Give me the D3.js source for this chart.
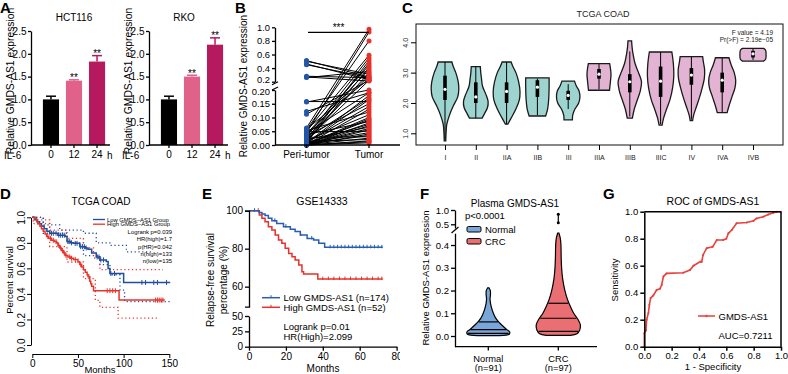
<!DOCTYPE html>
<html>
<head>
<meta charset="utf-8">
<script src="https://cdn.jsdelivr.net/npm/d3@7"></script>
<style>
  body { margin: 0; background: #fff; }
  svg { display: block; font-family: "Liberation Sans", Arial, sans-serif; }
</style>
</head>
<body>
<svg width="788" height="374"></svg>
<script>
// ---------- A: IL-6 bars ----------
const ilTimes = ['0', '12', '24'];
const hctMeans = [1.0, 1.41, 1.83];
const hctErr = [0.07, 0.02, 0.13];
const rkoMeans = [1.0, 1.5, 2.2];
const rkoErr = [0.07, 0.03, 0.15];
const barTicks = [0, 0.5, 1.0, 1.5, 2.0, 2.5];
const barColors = ['#000000', '#e0628a', '#b5195e'];

// ---------- B: paired peri-tumor / tumor ----------
const pairGroups = ['Peri-tumor', 'Tumor'];
const periValues = [0.51, 0.50, 0.46, 0.45, 0.28, 0.27, 0.26, 0.158, 0.156, 0.122, 0.112,
  0.062, 0.058, 0.055, 0.052, 0.05, 0.048, 0.045, 0.043, 0.04, 0.038, 0.035, 0.033, 0.03,
  0.028, 0.026, 0.024, 0.022, 0.02, 0.018, 0.016, 0.015, 0.013, 0.012, 0.01, 0.009, 0.008,
  0.007, 0.006, 0.005, 0.004, 0.003, 0.003, 0.002, 0.002, 0.001, 0.001, 0, 0, 0, 0, 0, 0, 0];
const tumorValues = [0.27, 0.31, 0.23, 0.26, 0.26, 0.21, 0.35, 0.158, 0.2, 0.19, 0.22,
  0.97, 0.24, 0.80, 0.12, 0.59, 0.05, 0.93, 0.19, 0.44, 0.085, 0.38, 0.15, 0.55, 0.03,
  0.29, 0.17, 0.47, 0.065, 0.22, 0.11, 0.33, 0.02, 0.51, 0.14, 0.41, 0.075, 0.18, 0.045,
  0.165, 0.09, 0.1, 0.035, 0.13, 0.06, 0.095, 0.025, 0.08, 0.055, 0.07, 0.015, 0.04, 0.012, 0.008];
const bTopTicks = [0.2, 0.4, 0.6, 0.8, 1.0];
const bBotTicks = [0, 0.05, 0.10, 0.15, 0.20];

// ---------- C: TCGA COAD violins ----------
const stages = ['I', 'II', 'IIA', 'IIB', 'III', 'IIIA', 'IIIB', 'IIIC', 'IV', 'IVA', 'IVB'];
const stageLate = [0, 0, 0, 0, 0, 1, 1, 1, 1, 1, 1];
// [value, relative half width]
const stageShapes = [
  [[0.75, 0.05], [1.0, 0.07], [1.3, 0.12], [1.6, 0.3], [1.9, 0.55], [2.2, 0.85], [2.45, 0.92], [2.7, 0.88], [3.0, 0.72], [3.2, 0.55], [3.35, 0.46]],
  [[1.5, 0.42], [1.65, 0.58], [1.85, 0.78], [2.05, 0.82], [2.3, 0.66], [2.55, 0.45], [2.8, 0.38], [3.0, 0.33], [3.2, 0.3]],
  [[1.3, 0.08], [1.5, 0.3], [1.8, 0.62], [2.1, 0.85], [2.4, 0.89], [2.7, 0.8], [3.0, 0.62], [3.2, 0.42], [3.35, 0.3]],
  [[1.57, 0.55], [1.8, 0.68], [2.1, 0.75], [2.5, 0.78], [2.83, 0.78]],
  [[1.44, 0.28], [1.6, 0.3], [1.8, 0.45], [2.0, 0.7], [2.2, 0.78], [2.4, 0.72], [2.55, 0.55], [2.72, 0.42]],
  [[2.42, 0.7], [2.7, 0.76], [2.95, 0.8], [3.15, 0.76], [3.3, 0.71]],
  [[1.5, 0.17], [1.8, 0.3], [2.1, 0.5], [2.4, 0.7], [2.7, 0.78], [3.0, 0.58], [3.3, 0.35], [3.6, 0.22], [3.85, 0.15], [4.05, 0.12]],
  [[1.27, 0.1], [1.5, 0.2], [1.8, 0.4], [2.1, 0.62], [2.5, 0.8], [2.9, 0.88], [3.3, 0.85], [3.68, 0.75]],
  [[1.42, 0.08], [1.6, 0.15], [1.9, 0.35], [2.2, 0.55], [2.5, 0.72], [2.8, 0.86], [3.1, 0.88], [3.35, 0.8], [3.53, 0.75]],
  [[1.68, 0.33], [1.9, 0.45], [2.2, 0.65], [2.5, 0.85], [2.75, 0.9], [3.0, 0.8], [3.25, 0.6], [3.49, 0.45]],
  [[3.38, 0.7], [3.44, 0.84], [3.6, 0.87], [3.74, 0.84], [3.8, 0.7]]
];
const stageQ1 = [2.1, 2.0, 2.0, 2.2, 2.1, 2.8, 2.35, 2.2, 2.6, 2.35, 3.5];
const stageMedian = [2.45, 2.2, 2.38, 2.52, 2.25, 2.95, 2.7, 2.72, 2.92, 2.75, 3.62];
const stageQ3 = [2.9, 2.68, 2.68, 2.75, 2.4, 3.12, 2.95, 3.2, 3.15, 3.0, 3.72];
const stageLow = [0.8, 1.5, 1.3, 1.6, 1.8, 2.45, 1.55, 1.3, 1.45, 1.7, 3.42];
const stageHigh = [3.35, 3.2, 3.35, 2.8, 2.62, 3.28, 3.7, 3.68, 3.52, 3.48, 3.78];
const coadTicks = [1, 2, 3, 4];

// ---------- D: TCGA COAD survival ----------
const dLowTime = [0, 3, 5, 8, 10, 13, 16, 19, 28, 36, 38, 42, 45, 52, 58, 61, 65, 70, 74, 81, 83, 85, 100, 151];
const dLowSurv = [1.0, 0.98, 0.965, 0.95, 0.93, 0.91, 0.89, 0.875, 0.86, 0.85, 0.81, 0.8, 0.796, 0.77, 0.76, 0.75, 0.72, 0.69, 0.666, 0.653, 0.6, 0.56, 0.49, 0.49];
const dHighTime = [0, 2, 4.7, 6, 8.4, 10, 12, 14, 15.7, 18, 21, 24, 26.6, 28, 30, 32, 34, 36, 39, 42, 45, 50, 52, 54, 56, 58, 60, 61, 63, 64, 65, 67, 95, 145];
const dHighSurv = [1.0, 0.99, 0.97, 0.95, 0.93, 0.91, 0.89, 0.87, 0.85, 0.835, 0.82, 0.81, 0.8, 0.78, 0.76, 0.74, 0.72, 0.7, 0.69, 0.68, 0.67, 0.65, 0.63, 0.61, 0.59, 0.57, 0.55, 0.535, 0.5, 0.48, 0.46, 0.425, 0.352, 0.352];
const dLowUpTime = [0, 12, 30, 56, 70, 85, 103, 130];
const dLowUpSurv = [1.0, 0.94, 0.9, 0.875, 0.8, 0.78, 0.73, 0.73];
const dLowLoTime = [0, 12, 38, 56, 74, 85, 96, 101, 151];
const dLowLoSurv = [1.0, 0.875, 0.8, 0.7, 0.63, 0.55, 0.43, 0.34, 0.33];
const dHighUpTime = [0, 1, 19, 38, 56, 67, 74, 143];
const dHighUpSurv = [1.0, 0.98, 0.9, 0.835, 0.76, 0.68, 0.59, 0.59];
const dHighLoTime = [0, 1, 19, 38, 56, 69, 74, 94, 138];
const dHighLoSurv = [1.0, 0.95, 0.77, 0.65, 0.52, 0.35, 0.295, 0.21, 0.21];
const dLowCensor = [21, 23, 26, 29, 31, 33, 35, 39, 41, 43, 47, 49, 53, 55, 57, 59, 71, 73, 75, 78, 86, 90, 120, 124, 133, 137, 147];
const dHighCensor = [17, 20, 23, 26, 29, 31, 33, 35, 37, 41, 43, 47, 53, 62, 82, 85, 88, 91, 135, 137, 139, 141, 143];
const dStats = ['Logrank p=0.039', 'HR(high)=1.7', 'p(HR)=0.042', 'n(high)=133', 'n(low)=135'];
const survTicks = [0, 0.2, 0.4, 0.6, 0.8, 1.0];
const monthTicksD = [0, 50, 100, 150];

// ---------- E: GSE14333 relapse-free survival ----------
const eLowTime = [0, 5.5, 7, 8.7, 10.5, 12.4, 15, 18.7, 22.4, 25, 27.8, 31.5, 35, 37.8, 41, 72.5];
const eLowSurv = [100, 99, 98.2, 97.5, 96, 94.7, 93.3, 91.6, 90.2, 89, 87.2, 85.4, 84.6, 82.8, 80.7, 80.7];
const eHighTime = [0, 5.6, 7, 8.7, 10.5, 12.4, 14.2, 16, 17.8, 19.6, 21.5, 23.3, 25, 27, 28.7, 29.6, 37.3, 72.5];
const eHighSurv = [100, 97.7, 96, 94.2, 91.6, 89.8, 87.2, 84.6, 82.8, 80.2, 77.5, 75.8, 74, 71.4, 67.9, 66.7, 64, 64];
const eLowCensor = [3, 14, 20, 28, 34, 44, 46, 48, 50, 52, 54, 56, 58, 60, 62, 64, 66, 68, 70, 72];
const eHighCensor = [5, 40, 43, 46, 49, 52, 55, 58, 61, 64, 67, 70, 72];
const eTopTicks = [60, 80, 100];
const eBotTicks = [0, 25, 50];
const monthTicksE = [0, 20, 40, 60, 80];

// ---------- F: plasma violins ----------
const plasmaGroups = ['Normal', 'CRC'];
const plasmaN = ['(n=91)', '(n=97)'];
const plasmaShapes = [
  [[0.002, 0.5], [0.008, 0.95], [0.018, 0.97], [0.03, 0.82], [0.045, 0.65], [0.06, 0.49], [0.08, 0.33], [0.1, 0.23], [0.13, 0.13], [0.16, 0.08], [0.185, 0.1], [0.2, 0.09], [0.212, 0.03]],
  [[0.003, 0.55], [0.01, 0.85], [0.025, 0.97], [0.05, 1.0], [0.075, 0.88], [0.1, 0.7], [0.13, 0.55], [0.16, 0.42], [0.2, 0.3], [0.25, 0.2], [0.3, 0.15], [0.35, 0.13], [0.4, 0.12], [0.43, 0.09], [0.452, 0.03]]
];
const plasmaQuart = [[0.012, 0.028, 0.062], [0.02, 0.078, 0.144]];
const crcHigh = [0.55, 0.85];
const fTopTicks = [0.5, 1.0];
const fBotTicks = [0, 0.1, 0.2, 0.3, 0.4];

// ---------- G: ROC ----------
const rocFpr = [0, 0, 0.012, 0.017, 0.03, 0.037, 0.046, 0.066, 0.09, 0.115, 0.127, 0.14, 0.163, 0.285, 0.334, 0.36, 0.41, 0.42, 0.43, 0.456, 0.5, 0.53, 0.578, 0.6, 0.615, 0.64, 0.675, 0.75, 0.8, 0.82, 0.87, 0.907, 0.944, 0.97, 1.0];
const rocTpr = [0, 0.1, 0.12, 0.2, 0.25, 0.31, 0.36, 0.38, 0.42, 0.43, 0.457, 0.52, 0.543, 0.548, 0.568, 0.6, 0.63, 0.63, 0.68, 0.73, 0.74, 0.79, 0.79, 0.8, 0.84, 0.864, 0.914, 0.92, 0.933, 0.95, 0.963, 0.98, 0.993, 1.0, 1.0];
const rocTicks = [0, 0.2, 0.4, 0.6, 0.8, 1.0];

const svg = d3.select('svg');
const font = '"Liberation Sans", Arial, sans-serif';

const styleAxis = (sel, size, sw) => {
  sel.attr('font-family', font).attr('font-size', size);
  sel.selectAll('.domain, .tick line').attr('stroke', '#000').attr('stroke-width', sw);
  sel.selectAll('.tick text').attr('fill', '#000');
  return sel;
};
const text = (g, x, y, s, size, anchor = 'start') =>
  g.append('text').attr('x', x).attr('y', y).attr('font-size', size)
    .attr('text-anchor', anchor).attr('fill', '#000').text(s);
const vtext = (g, x, y, s, size) =>
  g.append('text').attr('transform', `translate(${x},${y}) rotate(-90)`)
    .attr('font-size', size).attr('text-anchor', 'middle').attr('fill', '#000').text(s);
const hline = (g, x1, x2, y, sw = 1.3, c = '#000') =>
  g.append('line').attr('x1', x1).attr('x2', x2).attr('y1', y).attr('y2', y).attr('stroke', c).attr('stroke-width', sw);
const survAt = (times, surv, t) => {
  let s = surv[0];
  times.forEach((tt, i) => { if (tt <= t) s = surv[i]; });
  return s;
};

// panel letters
[['A', 0, 13], ['B', 235, 13], ['C', 402, 13], ['D', 0, 199], ['E', 202, 199], ['F', 420, 199], ['G', 603, 199]]
  .forEach(([s, x, y]) => text(svg, x, y, s, 15).attr('font-weight', 'bold'));

// ---------- A ----------
const barPanel = (axisX, title, titleX, means, errs) => {
  const g = svg.append('g');
  const y = d3.scaleLinear().domain([0, 2.5]).range([145, 31]);
  const x = d3.scaleBand().domain(ilTimes).range([axisX + 5, axisX + 81])
    .paddingInner(0.3).paddingOuter(0.3);
  const rows = ilTimes.map((t, i) => ({ t, m: means[i], e: errs[i], c: barColors[i] }));
  const cx = d => x(d.t) + x.bandwidth() / 2;

  g.selectAll('rect').data(rows).enter().append('rect')
    .attr('x', d => x(d.t)).attr('width', x.bandwidth())
    .attr('y', d => y(d.m)).attr('height', d => y(0) - y(d.m))
    .attr('fill', d => d.c);
  g.selectAll('line.err').data(rows).enter().append('line').attr('class', 'err')
    .attr('x1', cx).attr('x2', cx).attr('y1', d => y(d.m)).attr('y2', d => y(d.m + d.e))
    .attr('stroke', d => d.c).attr('stroke-width', 1.5);
  g.selectAll('line.cap').data(rows).enter().append('line').attr('class', 'cap')
    .attr('x1', d => cx(d) - 5).attr('x2', d => cx(d) + 5)
    .attr('y1', d => y(d.m + d.e)).attr('y2', d => y(d.m + d.e))
    .attr('stroke', d => d.c).attr('stroke-width', 1.5);
  g.selectAll('text.star').data(rows.slice(1)).enter().append('text').attr('class', 'star')
    .attr('x', cx).attr('y', d => y(d.m + d.e) + 1.5).attr('text-anchor', 'middle')
    .attr('font-size', 10).text('**');

  const yAxis = g.append('g').attr('transform', `translate(${axisX},0)`)
    .call(d3.axisLeft(y).tickValues(barTicks).tickFormat(d3.format('.1f'))
      .tickSize(3).tickSizeOuter(0).tickPadding(1.5));
  styleAxis(yAxis, 10, 1.3);
  const xAxis = g.append('g').attr('transform', 'translate(0,145)')
    .call(d3.axisBottom(x).tickSize(3).tickPadding(2.5));
  xAxis.select('.domain').remove();
  styleAxis(xAxis, 10, 1.3);
  hline(g, axisX, axisX + 79, 145);

  text(g, axisX - 27, 158.5, 'IL-6', 10);
  text(g, axisX + 76, 158.5, 'h', 10);
  text(g, titleX, 21, title, 10, 'middle');
  vtext(g, axisX - 17, 81, 'Relative GMDS-AS1 expression', 10.3);
};
barPanel(31, 'HCT116', 74, hctMeans, hctErr);
barPanel(149, 'RKO', 184, rkoMeans, rkoErr);

// ---------- B ----------
{
  const g = svg.append('g');
  const x = d3.scalePoint().domain(pairGroups).range([306.5, 369]);
  const yTop = d3.scaleLinear().domain([0.2, 1.0]).range([81.7, 27.3]);
  const yBot = d3.scaleLinear().domain([0, 0.2]).range([145, 90]);
  const y = v => v > 0.2 ? yTop(v) : yBot(v);
  const pairs = periValues.map((p, i) => [p, tumorValues[i]]);

  g.selectAll('line.pair').data(pairs).enter().append('line').attr('class', 'pair')
    .attr('x1', x('Peri-tumor')).attr('x2', x('Tumor'))
    .attr('y1', d => y(d[0])).attr('y2', d => y(d[1]))
    .attr('stroke', '#000').attr('stroke-width', 1);
  g.selectAll('circle.peri').data(periValues).enter().append('circle').attr('class', 'peri')
    .attr('cx', x('Peri-tumor')).attr('cy', d => y(d)).attr('r', 2.5).attr('fill', '#2156a8');
  g.selectAll('circle.tum').data(tumorValues).enter().append('circle').attr('class', 'tum')
    .attr('cx', x('Tumor')).attr('cy', d => y(d)).attr('r', 2.5).attr('fill', '#e5332c');

  const aTop = g.append('g').attr('transform', 'translate(275,0)')
    .call(d3.axisLeft(yTop).tickValues(bTopTicks).tickFormat(d3.format('.1f')).tickSize(3).tickSizeOuter(0).tickPadding(2));
  styleAxis(aTop, 9.4, 1.3);
  aTop.selectAll('.tick text').filter(d => d === 0.2).attr('dy', '0.1em');
  const aBot = g.append('g').attr('transform', 'translate(275,0)')
    .call(d3.axisLeft(yBot).tickValues(bBotTicks).tickFormat(d3.format('.2f')).tickSize(3).tickSizeOuter(0).tickPadding(2));
  styleAxis(aBot, 9.4, 1.3);
  aBot.selectAll('.tick text').filter(d => d === 0.2).attr('dy', '0.5em');
  [yTop(0.2) + 1.5, yBot(0.2) - 1.5].forEach(yy =>
    g.append('line').attr('x1', 272).attr('x2', 278).attr('y1', yy + 1.5).attr('y2', yy - 1.5)
      .attr('stroke', '#000').attr('stroke-width', 1.2));

  hline(g, 275, 400, 145);
  pairGroups.forEach(k => {
    g.append('line').attr('x1', x(k)).attr('x2', x(k)).attr('y1', 145).attr('y2', 148)
      .attr('stroke', '#000').attr('stroke-width', 1.3);
    text(g, x(k), 158, k, 10, 'middle');
  });
  hline(g, 308, 369, 32.3, 1.2);
  text(g, 338.5, 31, '***', 10, 'middle');
  vtext(g, 247, 86, 'Relative GMDS-AS1 expression', 10);
}

// ---------- C ----------
{
  const g = svg.append('g');
  const x = d3.scalePoint().domain(stages).range([445, 753]);
  const y = d3.scaleLinear().domain([1, 4]).range([133.3, 42.3]);
  const w = d3.scaleLinear().domain([0, 1]).range([0, 15]);

  stages.forEach((s, i) => {
    const cx = x(s);
    const area = d3.area()
      .y(d => y(d[0])).x0(d => cx - w(d[1])).x1(d => cx + w(d[1]))
      .curve(d3.curveCatmullRom);
    g.append('path').attr('d', area(stageShapes[i]))
      .attr('fill', stageLate[i] ? '#e3b3d3' : '#9dd4d0')
      .attr('stroke', '#1a1a1a').attr('stroke-width', 1.3);
    g.append('line').attr('x1', cx).attr('x2', cx)
      .attr('y1', y(stageLow[i])).attr('y2', y(stageHigh[i]))
      .attr('stroke', '#000').attr('stroke-width', 1);
    g.append('rect').attr('x', cx - 1.8).attr('width', 3.6)
      .attr('y', y(stageQ3[i])).attr('height', y(stageQ1[i]) - y(stageQ3[i]))
      .attr('fill', '#000');
    g.append('circle').attr('cx', cx).attr('cy', y(stageMedian[i])).attr('r', 1.6).attr('fill', '#fff');
  });

  g.append('rect').attr('x', 416).attr('y', 24).attr('width', 367).attr('height', 121)
    .attr('fill', 'none').attr('stroke', '#111').attr('stroke-width', 1);
  const yAxis = g.append('g').attr('transform', 'translate(416,0)')
    .call(d3.axisLeft(y).tickValues(coadTicks).tickSize(5).tickSizeOuter(0));
  yAxis.select('.domain').remove();
  styleAxis(yAxis, 7, 1);
  yAxis.selectAll('.tick text').attr('transform', 'rotate(-90)')
    .attr('x', 0).attr('y', -8).attr('dy', 0).attr('text-anchor', 'middle').attr('fill', '#222');
  const xAxis = g.append('g').attr('transform', 'translate(0,145)')
    .call(d3.axisBottom(x).tickSize(5).tickPadding(5));
  xAxis.select('.domain').remove();
  styleAxis(xAxis, 7, 1);
  xAxis.selectAll('.tick text').attr('fill', '#222');

  text(g, 603, 17, 'TCGA COAD', 9, 'middle').attr('fill', '#222');
  text(g, 773, 34.5, 'F value = 4.19', 6.5, 'end').attr('fill', '#222');
  text(g, 773, 42, 'Pr(>F) = 2.19e\u221205', 6.5, 'end').attr('fill', '#222');
}

// ---------- D ----------
{
  const g = svg.append('g');
  const x = d3.scaleLinear().domain([0, 150]).range([32.3, 169.3]);
  const y = d3.scaleLinear().domain([0, 1]).range([345, 217.3]);
  const line = d3.line().x(d => x(d[0])).y(d => y(d[1])).curve(d3.curveStepAfter);
  const blue = '#1f4e9c', red = '#e8332a';

  [[dLowUpTime, dLowUpSurv, blue], [dLowLoTime, dLowLoSurv, blue],
   [dHighUpTime, dHighUpSurv, red], [dHighLoTime, dHighLoSurv, red]].forEach(([t, s, c]) =>
    g.append('path').attr('d', line(d3.zip(t, s))).attr('fill', 'none')
      .attr('stroke', c).attr('stroke-width', 1.3).attr('stroke-dasharray', '1.2,2.6'));
  [[dLowTime, dLowSurv, dLowCensor, blue], [dHighTime, dHighSurv, dHighCensor, red]].forEach(([t, s, cens, c]) => {
    g.append('path').attr('d', line(d3.zip(t, s))).attr('fill', 'none')
      .attr('stroke', c).attr('stroke-width', 1.5);
    g.selectAll(null).data(cens).enter().append('line')
      .attr('x1', d => x(d)).attr('x2', d => x(d))
      .attr('y1', d => y(survAt(t, s, d)) - 2.5).attr('y2', d => y(survAt(t, s, d)) + 2.5)
      .attr('stroke', c).attr('stroke-width', 1);
  });

  const yAxis = g.append('g').attr('transform', 'translate(31,0)')
    .call(d3.axisLeft(y).tickValues(survTicks).tickFormat(d3.format('.1f')).tickSize(4).tickSizeOuter(0));
  styleAxis(yAxis, 10, 1);
  yAxis.selectAll('.tick text').attr('transform', 'rotate(-90)')
    .attr('x', 0).attr('y', -6.5).attr('dy', 0).attr('text-anchor', 'middle');
  const xAxis = g.append('g').attr('transform', 'translate(0,354)')
    .call(d3.axisBottom(x).tickValues(monthTicksD).tickSize(4).tickSizeOuter(0).tickPadding(2));
  styleAxis(xAxis, 10, 1);

  text(g, 101, 205, 'TCGA COAD', 10, 'middle');
  text(g, 100, 373, 'Months', 9.5, 'middle');
  vtext(g, 13, 280, 'Percent survival', 9.5);

  hline(g, 93, 105, 219.5, 1.3, blue);
  hline(g, 93, 105, 224.2, 1.3, red);
  text(g, 107, 221.6, 'Low GMDS\u2212AS1 Group', 5.8);
  text(g, 107, 226.3, 'High GMDS\u2212AS1 Group', 5.8);
  dStats.forEach((s, i) => text(g, 172, 234 + i * 7.3, s, 5.9, 'end'));
}

// ---------- E ----------
{
  svg.append('clipPath').attr('id', 'clipE').append('rect')
    .attr('x', 195).attr('y', 186).attr('width', 205).attr('height', 190);
  const g = svg.append('g').attr('clip-path', 'url(#clipE)');
  const x = d3.scaleLinear().domain([0, 80]).range([249, 396.6]);
  const yTop = d3.scaleLinear().domain([49.5, 100]).range([306.6, 210.7]);
  const yBot = d3.scaleLinear().domain([0, 50]).range([346.7, 316]);
  const line = d3.line().x(d => x(d[0])).y(d => yTop(d[1])).curve(d3.curveStepAfter);
  const blue = '#2a5cb0', red = '#e6302a';

  [[eHighTime, eHighSurv, eHighCensor, red], [eLowTime, eLowSurv, eLowCensor, blue]].forEach(([t, s, cens, c]) => {
    g.append('path').attr('d', line(d3.zip(t, s))).attr('fill', 'none')
      .attr('stroke', c).attr('stroke-width', 1.5);
    g.selectAll(null).data(cens).enter().append('line')
      .attr('x1', d => x(d)).attr('x2', d => x(d))
      .attr('y1', d => yTop(survAt(t, s, d)) - 2.5).attr('y2', d => yTop(survAt(t, s, d)) + 1)
      .attr('stroke', c).attr('stroke-width', 1);
  });

  const aTop = g.append('g').attr('transform', 'translate(249,0)')
    .call(d3.axisLeft(yTop).tickValues(eTopTicks).tickSize(4).tickSizeOuter(4).tickPadding(2));
  styleAxis(aTop, 10, 1.3);
  const aBot = g.append('g').attr('transform', 'translate(249,0)')
    .call(d3.axisLeft(yBot).tickValues(eBotTicks).tickSize(4).tickSizeOuter(0).tickPadding(2));
  styleAxis(aBot, 10, 1.3);
  const xAxis = g.append('g').attr('transform', 'translate(0,346.7)')
    .call(d3.axisBottom(x).tickValues(monthTicksE).tickSize(4).tickSizeOuter(0).tickPadding(2));
  styleAxis(xAxis, 10, 1.3);

  text(g, 322, 205, 'GSE14333', 10.5, 'middle');
  text(g, 323, 372, 'Months', 10, 'middle');
  vtext(g, 213.5, 280, 'Relapse-free survival', 10);
  vtext(g, 226.5, 280, 'percentage (%)', 10);

  hline(g, 262, 280, 297.7, 1.5, blue);
  hline(g, 262, 280, 307.3, 1.5, red);
  [297.7, 307.3].forEach((yy, i) =>
    g.append('line').attr('x1', 271).attr('x2', 271).attr('y1', yy - 2.5).attr('y2', yy)
      .attr('stroke', i ? red : blue).attr('stroke-width', 1));
  text(g, 283.5, 301, 'Low GMDS-AS1 (n=174)', 9.5);
  text(g, 283.5, 310.6, 'High GMDS-AS1 (n=52)', 9.5);
  text(g, 283.5, 329.5, 'Logrank p=0.01', 9.5);
  text(g, 283.5, 340.3, 'HR(High)=2.099', 9.5);
}

// ---------- F ----------
{
  const g = svg.append('g');
  const x = d3.scalePoint().domain(plasmaGroups).range([488.3, 558.3]);
  const yTop = d3.scaleLinear().domain([0.37, 1.0]).range([228, 210]);
  const yBot = d3.scaleLinear().domain([-0.047, 0.452]).range([346.7, 233.2]);
  const w = d3.scaleLinear().domain([0, 1]).range([0, 22]);
  const fills = ['#7aa7da', '#ea6f72'];

  plasmaGroups.forEach((k, i) => {
    const cx = x(k);
    const shape = plasmaShapes[i];
    const area = d3.area()
      .y(d => yBot(d[0])).x0(d => cx - w(d[1])).x1(d => cx + w(d[1]))
      .curve(d3.curveCatmullRom);
    g.append('path').attr('d', area(shape)).attr('fill', fills[i])
      .attr('stroke', '#000').attr('stroke-width', 1.2);
    const width = d3.scaleLinear().domain(shape.map(d => d[0])).range(shape.map(d => d[1]));
    plasmaQuart[i].forEach(q =>
      hline(g, cx - w(width(q)) + 0.8, cx + w(width(q)) - 0.8, yBot(q), 1.2));
  });
  const cx = x('CRC');
  g.append('line').attr('x1', cx).attr('x2', cx).attr('y1', yTop(crcHigh[0])).attr('y2', yTop(crcHigh[1]))
    .attr('stroke', '#000').attr('stroke-width', 1.2);
  g.selectAll(null).data(crcHigh).enter().append('circle')
    .attr('cx', cx).attr('cy', d => yTop(d)).attr('r', 1.5).attr('fill', '#000');

  const aTop = g.append('g').attr('transform', 'translate(455,0)')
    .call(d3.axisLeft(yTop).tickValues(fTopTicks).tickFormat(d3.format('.1f')).tickSize(4).tickSizeOuter(0).tickPadding(2));
  styleAxis(aTop, 9.5, 1.3);
  const aBot = g.append('g').attr('transform', 'translate(455,0)')
    .call(d3.axisLeft(yBot).tickValues(fBotTicks).tickFormat(d3.format('.1f')).tickSize(4).tickSizeOuter(0).tickPadding(2));
  styleAxis(aBot, 9.5, 1.3);
  g.append('line').attr('x1', 451.5).attr('x2', 458.5).attr('y1', 233).attr('y2', 227)
    .attr('stroke', '#000').attr('stroke-width', 1.2);

  hline(g, 455, 597, 346.7);
  plasmaGroups.forEach((k, i) => {
    g.append('line').attr('x1', x(k)).attr('x2', x(k)).attr('y1', 346.7).attr('y2', 350.5)
      .attr('stroke', '#000').attr('stroke-width', 1.3);
    text(g, x(k), 362, k, 9.3, 'middle');
    text(g, x(k), 371.3, plasmaN[i], 9.3, 'middle');
  });

  text(g, 515, 206.5, 'Plasma GMDS-AS1', 10, 'middle');
  text(g, 465, 218.5, 'p<0.0001', 9.5);
  plasmaGroups.forEach((k, i) => {
    g.append('rect').attr('x', 467).attr('y', 226.5 + i * 12).attr('width', 14).attr('height', 5.5)
      .attr('rx', 1.5).attr('fill', fills[i]).attr('stroke', '#000').attr('stroke-width', 1);
    text(g, 485, 233 + i * 12, k, 9.5);
  });
  vtext(g, 429, 278, 'Relative GMDS-AS1 expression', 9.5);
}

// ---------- G ----------
{
  const g = svg.append('g');
  const x = d3.scaleLinear().domain([0, 1]).range([644.3, 781]);
  const y = d3.scaleLinear().domain([0, 1]).range([346.7, 211.7]);
  const red = '#e8403c';
  const pts = d3.zip(rocFpr, rocTpr);

  g.append('path').attr('d', d3.line().x(d => x(d[0])).y(d => y(d[1]))(pts))
    .attr('fill', 'none').attr('stroke', red).attr('stroke-width', 1.6);
  g.selectAll(null).data(pts).enter().append('circle')
    .attr('cx', d => x(d[0])).attr('cy', d => y(d[1])).attr('r', 1).attr('fill', red);

  const yAxis = g.append('g').attr('transform', 'translate(644.3,0)')
    .call(d3.axisLeft(y).tickValues(rocTicks).tickFormat(d3.format('.1f')).tickSize(4).tickSizeOuter(0).tickPadding(2));
  styleAxis(yAxis, 9.5, 1.5);
  const xAxis = g.append('g').attr('transform', 'translate(0,346.7)')
    .call(d3.axisBottom(x).tickValues(rocTicks).tickFormat(d3.format('.1f')).tickSize(4).tickSizeOuter(0).tickPadding(2));
  styleAxis(xAxis, 9.5, 1.5);
  hline(g, 644.3, 781, 211.7, 1.5);
  g.append('line').attr('x1', 781).attr('x2', 781).attr('y1', 211.7).attr('y2', 346.7)
    .attr('stroke', '#000').attr('stroke-width', 1.5);

  text(g, 713, 205, 'ROC of GMDS-AS1', 10.5, 'middle');
  text(g, 713, 370, '1 - Specificity', 9.5, 'middle');
  vtext(g, 618, 280, 'Sensitivity', 9.5);
  hline(g, 698, 715, 316, 1.5, red);
  g.append('circle').attr('cx', 706.5).attr('cy', 316).attr('r', 1.2).attr('fill', red);
  text(g, 718.5, 319.5, 'GMDS-AS1', 9.5);
  text(g, 718.5, 338.5, 'AUC=0.7211', 9.5);
}
</script>
</body>
</html>
